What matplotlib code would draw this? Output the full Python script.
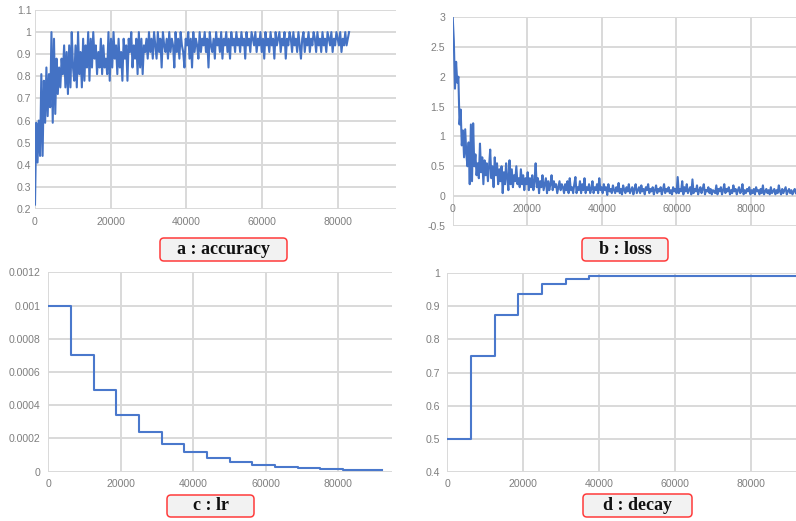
import numpy as np
import matplotlib
matplotlib.use("Agg")
from matplotlib import pyplot as plt
from matplotlib.patches import FancyBboxPatch
from matplotlib.transforms import IdentityTransform

# accuracy (steps 0..83000)
acc = [
    0.22, 0.59, 0.41, 0.6, 0.44, 0.81, 0.44, 0.78, 0.59, 0.84, 0.62, 0.81, 0.66, 1.0, 0.59,
    0.97, 0.63, 0.88, 0.72, 0.84, 0.75, 0.88, 0.81, 0.94, 0.75, 0.91, 0.72, 0.94, 0.75, 1.0,
    0.84, 0.78, 0.94, 0.75, 1.0, 0.81, 0.91, 0.75, 0.97, 0.78, 0.94, 0.84, 1.0, 0.78, 0.97,
    0.84, 1.0, 0.88, 0.94, 0.81, 0.91, 0.84, 0.97, 0.81, 0.94, 0.84, 0.88, 0.81, 1.0, 0.78,
    0.97, 0.84, 1.0, 0.88, 0.94, 0.81, 0.97, 0.84, 0.91, 0.78, 0.97, 0.88, 0.94, 0.78, 0.97,
    0.91, 1.0, 0.84, 0.94, 0.88, 0.97, 0.81, 1.0, 0.84, 0.97, 0.81, 0.94, 0.91, 0.97, 0.88,
    1.0, 0.91, 0.97, 0.88, 1.0, 0.94, 0.88, 1.0, 0.91, 0.97, 0.84, 1.0, 0.94, 0.91, 0.97,
    0.88, 1.0, 0.91, 0.97, 0.94, 0.84, 1.0, 0.91, 0.97, 0.88, 1.0, 0.94, 0.91, 0.84, 0.97,
    0.94, 1.0, 0.88, 0.97, 0.84, 1.0, 0.91, 0.97, 0.94, 0.88, 1.0, 0.91, 0.97, 0.94, 1.0,
    0.91, 0.97, 0.84, 1.0, 0.94, 0.91, 0.97, 0.88, 1.0, 0.94, 0.97, 0.91, 1.0, 0.88, 0.97,
    0.94, 1.0, 0.91, 0.97, 0.88, 1.0, 0.94, 0.97, 0.91, 1.0, 0.94, 0.97, 0.91, 1.0, 0.94,
    0.97, 0.88, 1.0, 0.94, 0.97, 0.91, 1.0, 0.97, 0.94, 1.0, 0.91, 0.97, 0.94, 1.0, 0.91,
    0.97, 0.88, 1.0, 0.94, 0.97, 0.91, 1.0, 0.94, 0.97, 0.88, 1.0, 0.94, 0.97, 1.0, 0.91,
    0.97, 0.94, 1.0, 0.88, 0.97, 0.94, 1.0, 0.97, 0.91, 1.0, 0.94, 0.97, 0.91, 1.0, 0.94,
    0.88, 0.97, 1.0, 0.91, 0.97, 0.94, 1.0, 0.91, 0.97, 0.94, 1.0, 0.97, 0.91, 1.0, 0.94,
    0.97, 0.91, 1.0, 0.94, 0.97, 0.91, 1.0, 0.97, 0.94, 1.0, 0.91, 0.97, 0.94, 1.0, 0.97,
    0.94, 1.0, 0.91, 0.97, 0.94, 1.0, 0.94, 0.97, 1.0,
]
acc_last_step = 83000

# loss (steps 0..92000)
loss = [
    3.0, 2.6, 1.8, 2.25, 1.9, 2.0, 1.2, 1.45, 0.85, 1.1, 0.65, 1.12, 0.7, 0.5, 0.9, 0.2, 1.2,
    0.25, 1.22, 0.5, 0.7, 0.35, 0.55, 0.3, 0.88, 0.4, 0.65, 0.2, 0.6, 0.35, 0.55, 0.25, 0.5,
    0.78, 0.3, 0.5, 0.15, 0.65, 0.35, 0.55, 0.2, 0.45, 0.25, 0.5, 0.05, 0.4, 0.2, 0.55, 0.3,
    0.1, 0.6, 0.2, 0.45, 0.15, 0.35, 0.25, 0.5, 0.2, 0.3, 0.15, 0.45, 0.2, 0.35, 0.1, 0.3, 0.2,
    0.4, 0.1, 0.3, 0.15, 0.35, 0.1, 0.25, 0.55, 0.15, 0.3, 0.05, 0.25, 0.15, 0.35, 0.1, 0.2,
    0.3, 0.05, 0.25, 0.1, 0.2, 0.35, 0.1, 0.25, 0.15, 0.2, 0.05, 0.15, 0.25, 0.1, 0.2, 0.15, 0.05,
    0.2, 0.1, 0.25, 0.05, 0.3, 0.1, 0.15, 0.05, 0.2, 0.32, 0.05, 0.15, 0.1, 0.25, 0.05, 0.2,
    0.1, 0.3, 0.05, 0.15, 0.1, 0.2, 0.05, 0.12, 0.25, 0.05, 0.15, 0.1, 0.2, 0.05, 0.3, 0.1, 0.15,
    0.05, 0.2, 0.1, 0.15, 0.02, 0.2, 0.08, 0.12, 0.05, 0.18, 0.1, 0.05, 0.15, 0.08, 0.22, 0.05,
    0.12, 0.03, 0.18, 0.1, 0.05, 0.15, 0.08, 0.2, 0.05, 0.1, 0.15, 0.03, 0.12, 0.2, 0.05, 0.1, 0.15,
    0.05, 0.18, 0.08, 0.12, 0.03, 0.15, 0.1, 0.2, 0.05, 0.12, 0.08, 0.15, 0.03, 0.1, 0.18, 0.05,
    0.12, 0.08, 0.15, 0.03, 0.1, 0.2, 0.05, 0.12, 0.08, 0.15, 0.05, 0.1, 0.03, 0.15, 0.08, 0.12, 0.05,
    0.32, 0.05, 0.12, 0.08, 0.25, 0.03, 0.15, 0.08, 0.2, 0.05, 0.1, 0.15, 0.03, 0.28, 0.05, 0.12,
    0.08, 0.18, 0.03, 0.1, 0.15, 0.05, 0.12, 0.2, 0.03, 0.1, 0.08, 0.15, 0.05, 0.12, 0.03, 0.1, 0.08,
    0.05, 0.18, 0.03, 0.12, 0.08, 0.15, 0.03, 0.1, 0.2, 0.05, 0.12, 0.08, 0.15, 0.03, 0.1, 0.05,
    0.18, 0.08, 0.12, 0.03, 0.1, 0.15, 0.05, 0.08, 0.2, 0.03, 0.1, 0.05, 0.12, 0.08, 0.15, 0.03, 0.1,
    0.05, 0.12, 0.03, 0.15, 0.08, 0.1, 0.03, 0.12, 0.05, 0.18, 0.03, 0.08, 0.12, 0.05, 0.1, 0.03,
    0.15, 0.05, 0.08, 0.12, 0.03, 0.1, 0.05, 0.18, 0.08, 0.03, 0.12, 0.05, 0.1, 0.15, 0.03, 0.08,
    0.12, 0.05, 0.1, 0.03, 0.08, 0.12, 0.05,
]
loss_last_step = 92000

# learning rate schedule (panel c) and decay (panel d)
sched_steps = [0, 6250, 12500, 18750, 25000, 31250, 37500, 43750, 50000,
               56250, 62500, 68750, 75000, 81250, 92000]
lr = [0.001, 0.0007, 0.00049, 0.000343, 0.00024, 0.000168, 0.000118, 0.0000824,
      0.0000576, 0.0000404, 0.0000282, 0.0000198, 0.0000138, 0.0000097, 0.0000097]
decay = [0.5, 0.75, 0.875, 0.9375, 0.96875, 0.984, 0.992, 0.992, 0.992,
         0.992, 0.992, 0.992, 0.992, 0.992, 0.992]

xticks = [0, 20000, 40000, 60000, 80000]
titles = ["a : accuracy", "b : loss", "c : lr", "d : decay"]

W, H = 796, 521
BLUE = "#4472c4"
GRID = "#d9d9d9"
TXT = "#7f7f7f"

plt.rcParams["font.family"] = "Liberation Sans"

fig = plt.figure(figsize=(W / 100, H / 100), dpi=100)


def make_ax(left, top, right, bottom):
    ax = fig.add_axes([left / W, 1 - bottom / H, (right - left) / W, (bottom - top) / H])
    for s in ax.spines.values():
        s.set_visible(False)
    ax.grid(True, color=GRID, linewidth=1.4)
    ax.set_axisbelow(True)
    ax.tick_params(length=0, labelsize=7.6, labelcolor=TXT, pad=5.5)
    ax.set_xticks(xticks)
    ax.set_xticklabels([str(t) for t in xticks])
    return ax


# a : accuracy
ax = make_ax(35, 10, 396, 209)
xa = np.linspace(0, acc_last_step, len(acc))
ax.plot(xa, acc, color=BLUE, linewidth=1.5)
ax.set_xlim(0, 95400)
ax.set_ylim(0.2, 1.1)
ax.set_yticks(np.arange(0.2, 1.15, 0.1))
ax.set_yticklabels(["0.2", "0.3", "0.4", "0.5", "0.6", "0.7", "0.8", "0.9", "1", "1.1"])
ax.tick_params(axis="y", pad=2.5)

# b : loss
ax = make_ax(452.7, 17, 796, 226)
xb = np.linspace(0, loss_last_step, len(loss))
ax.plot(xb, loss, color=BLUE, linewidth=1.5)
ax.set_xlim(0, 92040)
ax.set_ylim(-0.5, 3)
ax.set_yticks([-0.5, 0, 0.5, 1, 1.5, 2, 2.5, 3])
ax.set_yticklabels(["-0.5", "0", "0.5", "1", "1.5", "2", "2.5", "3"])
ax.spines["bottom"].set_position(("data", 0))

# c : lr
ax = make_ax(48.3, 272.3, 391.7, 471.7)
ax.step(sched_steps, lr, where="post", color="#4a78cc", linewidth=1.5)
ax.set_xlim(0, 94730)
ax.set_ylim(0, 0.0012)
ax.set_yticks([0, 0.0002, 0.0004, 0.0006, 0.0008, 0.001, 0.0012])
ax.set_yticklabels(["0", "0.0002", "0.0004", "0.0006", "0.0008", "0.001", "0.0012"])

# d : decay
ax = make_ax(447.3, 273.3, 796, 471.7)
ax.step(sched_steps, decay, where="post", color="#4a78cc", linewidth=1.5)
ax.set_xlim(0, 92000)
ax.set_ylim(0.4, 1)
ax.set_yticks([0.4, 0.5, 0.6, 0.7, 0.8, 0.9, 1])
ax.set_yticklabels(["0.4", "0.5", "0.6", "0.7", "0.8", "0.9", "1"])

# caption boxes (pixel boxes: left, top, right, bottom)
boxes = [(160, 238, 287, 261), (582, 238, 668, 261), (167, 495, 254, 517), (583, 494, 692, 517)]
for (l, t, r, b), label in zip(boxes, titles):
    patch = FancyBboxPatch((l, H - b), r - l, b - t,
                           boxstyle="round,pad=0,rounding_size=4",
                           facecolor="#f2f2f2", edgecolor="#ff3b3b", linewidth=1.1,
                           transform=IdentityTransform())
    fig.patches.append(patch)
    fig.text((l + r) / 2 / W, 1 - (t + b) / 2 / H, label, ha="center", va="center",
             fontsize=13, fontweight="bold", family="Liberation Serif", color="#111111")

fig.savefig("out.png", dpi=100)
